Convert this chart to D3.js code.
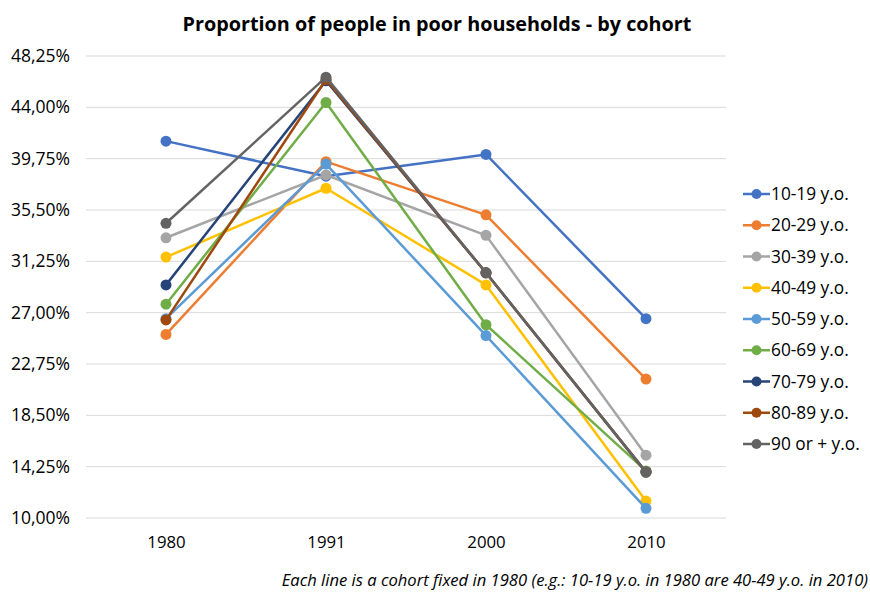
<!DOCTYPE html>
<html>
<head>
<meta charset="utf-8">
<script src="https://cdn.jsdelivr.net/npm/d3@7"></script>
<style>
  body { margin: 0; background: #fff; }
  svg { font-family: "Open Sans", sans-serif; }
</style>
</head>
<body>
<svg id="chart" width="870" height="592"></svg>
<script>
// years on the x axis
const years = ['1980', '1991', '2000', '2010']
// cohorts (fixed in 1980)
const cohorts = ['10-19 y.o.', '20-29 y.o.', '30-39 y.o.', '40-49 y.o.', '50-59 y.o.',
  '60-69 y.o.', '70-79 y.o.', '80-89 y.o.', '90 or + y.o.']
const colors = ['#4472C4', '#ED7D31', '#A5A5A5', '#FFC000', '#5B9BD5',
  '#70AD47', '#264478', '#9E480E', '#636363']
// percent values per cohort, one per year
const v10 = [41.2, 38.3, 40.1, 26.5]
const v20 = [25.2, 39.5, 35.1, 21.5]
const v30 = [33.2, 38.4, 33.4, 15.2]
const v40 = [31.6, 37.3, 29.3, 11.4]
const v50 = [26.5, 39.3, 25.1, 10.8]
const v60 = [27.7, 44.4, 26.0, 13.9]
const v70 = [29.3, 46.2, 30.3, 13.8]
const v80 = [26.4, 46.3, 30.3, 13.8]
const v90 = [34.4, 46.5, 30.3, 13.8]
const series = [v10, v20, v30, v40, v50, v60, v70, v80, v90]
const yTicks = [10, 14.25, 18.5, 22.75, 27, 31.25, 35.5, 39.75, 44, 48.25]

const svg = d3.select('#chart')
const margin = { left: 86, right: 144, top: 56, bottom: 74 }
const width = 870 - margin.left - margin.right
const height = 592 - margin.top - margin.bottom

const x = d3.scalePoint().domain(years).range([0, width]).padding(0.5)
const y = d3.scaleLinear().domain([10, 48.25]).range([height, 0])

const g = svg.append('g').attr('transform', `translate(${margin.left},${margin.top})`)

// gridlines
g.selectAll('line.grid').data(yTicks).enter().append('line')
  .attr('x1', 0).attr('x2', width)
  .attr('y1', d => y(d)).attr('y2', d => y(d))
  .attr('stroke', '#d9d9d9').attr('stroke-width', 1)

const fmt = d => d.toFixed(2).replace('.', ',') + '%'
const yAxis = g.append('g').call(d3.axisLeft(y).tickValues(yTicks).tickFormat(fmt).tickSize(0).tickPadding(16))
yAxis.select('.domain').remove()
yAxis.selectAll('text').attr('font-size', 17.5).attr('fill', '#000').attr('font-family', '"Open Sans", sans-serif')

const xAxis = g.append('g').attr('transform', `translate(0,${height})`)
  .call(d3.axisBottom(x).tickSize(0).tickPadding(18))
xAxis.select('.domain').remove()
xAxis.selectAll('text').attr('font-size', 16.8).attr('fill', '#000').attr('font-family', '"Open Sans", sans-serif')

const line = d3.line().x((d, i) => x(years[i])).y(d => y(d))

series.forEach((vals, s) => {
  g.append('path').datum(vals)
    .attr('d', line)
    .attr('fill', 'none')
    .attr('stroke', colors[s])
    .attr('stroke-width', 2.5)
    .attr('stroke-linejoin', 'round')
  g.selectAll(null).data(vals).enter().append('circle')
    .attr('cx', (d, i) => x(years[i]))
    .attr('cy', d => y(d))
    .attr('r', 5.5)
    .attr('fill', colors[s])
})

// legend
const legend = svg.append('g').attr('transform', 'translate(743,194)')
cohorts.forEach((c, i) => {
  const row = legend.append('g').attr('transform', `translate(0,${i * 31.25})`)
  row.append('line').attr('x1', 0).attr('x2', 27).attr('y1', 0).attr('y2', 0)
    .attr('stroke', colors[i]).attr('stroke-width', 2.5)
  row.append('circle').attr('cx', 13.5).attr('cy', 0).attr('r', 5).attr('fill', colors[i])
  row.append('text').attr('x', 28).attr('y', 0).attr('dy', '0.35em')
    .attr('font-size', 17.3).text(c)
})

svg.append('text').attr('x', 437).attr('y', 31)
  .attr('text-anchor', 'middle').attr('font-size', 19.8).attr('font-weight', 'bold')
  .text('Proportion of people in poor households - by cohort')

svg.append('text').attr('x', 868).attr('y', 586)
  .attr('text-anchor', 'end').attr('font-size', 16.6).attr('font-style', 'italic')
  .text('Each line is a cohort fixed in 1980 (e.g.: 10-19 y.o. in 1980 are 40-49 y.o. in 2010)')
</script>
</body>
</html>
